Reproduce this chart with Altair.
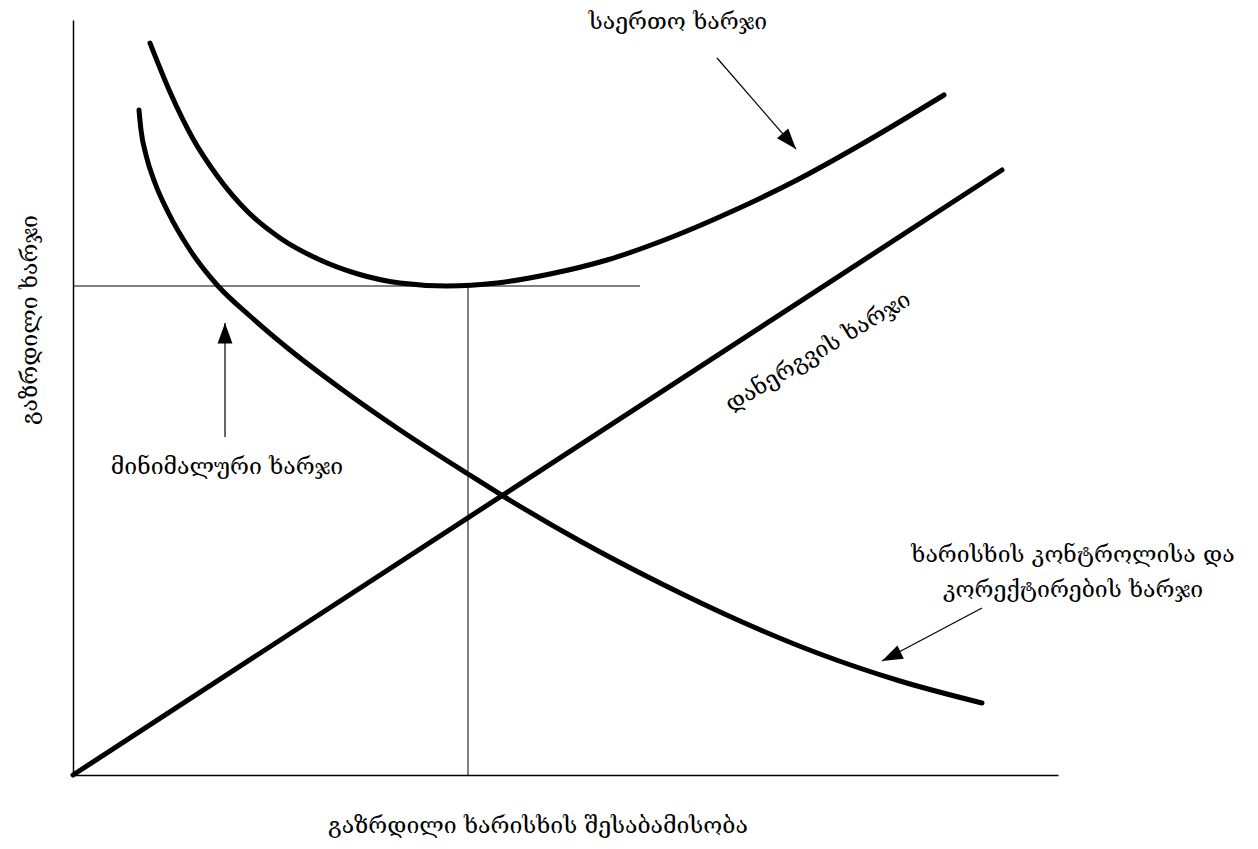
import altair as alt
import pandas as pd

# Data in chart units (origin at the axes corner, 1 unit ~ 1 px)
total_x = [77, 97, 119, 145, 175, 207, 245, 285, 327, 374, 424, 477, 534, 594, 662, 724, 789, 871]
total_y = [732, 683, 638, 598, 563, 537, 516, 501, 492, 489, 492, 501, 515, 536, 565, 595, 631, 680]

qc_x = [66, 68, 73, 82, 95, 117, 145, 177, 217, 267, 327, 395, 430, 507, 587, 667, 747, 827, 909]
qc_y = [665, 645, 620, 592, 563, 525, 489, 459, 425, 387, 345, 301, 279, 234, 192, 154, 121, 94, 72]

impl_x = [0, 929]
impl_y = [0, 605]

min_level_y = 489
min_level_x_end = 567
min_point_x = 395

arrow_x1 = [644, 152, 909]
arrow_y1 = [717, 338, 167]
arrow_x2 = [723, 152, 809]
arrow_y2 = [626, 452, 114]
arrow_angle = [139.5, 0, 244.5]

labels = ["საერთო ხარჯი", "მინიმალური ხარჯი", "დანერგვის ხარჯი",
          "ხარისხის კონტროლისა და", "კორექტირების ხარჯი"]
label_x = [605, 154, 745, 1000, 1000]
label_y = [753, 308, 423, 220, 185]
label_angle = [0, 0, 329, 0, 0]

x_title = "გაზრდილი ხარისხის შესაბამისობა"
y_title = "გაზრდილი ხარჯი"

W, H = 985, 755
FONT = "DejaVu Serif"
FS = 23

xs = alt.Scale(domain=[0, W], nice=False, zero=False)
ys = alt.Scale(domain=[0, H], nice=False, zero=False)

total_df = pd.DataFrame({"x": total_x, "y": total_y, "o": range(len(total_x))})
qc_df = pd.DataFrame({"x": qc_x, "y": qc_y, "o": range(len(qc_x))})
impl_df = pd.DataFrame({"x": impl_x, "y": impl_y, "o": range(len(impl_x))})

def curve(df, interp):
    return alt.Chart(df).mark_line(color="black", strokeWidth=5, strokeCap="round",
                                   interpolate=interp).encode(
        x=alt.X("x:Q", scale=xs, axis=alt.Axis(domain=True, ticks=False, labels=False, grid=False,
                                               title="", domainColor="black", domainWidth=1.5)),
        y=alt.Y("y:Q", scale=ys, axis=alt.Axis(domain=True, ticks=False, labels=False, grid=False,
                                               title="", domainColor="black", domainWidth=1.5)),
        order="o:Q",
    )

total = curve(total_df, "monotone")
qc = curve(qc_df, "monotone")
impl = curve(impl_df, "linear")

guides_df = pd.DataFrame({
    "x": [0, min_point_x],
    "x2": [min_level_x_end, min_point_x],
    "y": [min_level_y, 0],
    "y2": [min_level_y, min_level_y],
})
guides = alt.Chart(guides_df).mark_rule(color="black", strokeWidth=1).encode(
    x=alt.X("x:Q", scale=xs), x2="x2:Q", y=alt.Y("y:Q", scale=ys), y2="y2:Q"
)

arrows_df = pd.DataFrame({"x": arrow_x1, "y": arrow_y1, "x2": arrow_x2, "y2": arrow_y2,
                          "a": arrow_angle})
arrow_lines = alt.Chart(arrows_df).mark_rule(color="black", strokeWidth=1.2).encode(
    x=alt.X("x:Q", scale=xs), x2="x2:Q", y=alt.Y("y:Q", scale=ys), y2="y2:Q"
)
arrow_heads = alt.Chart(arrows_df).mark_point(
    shape="M0,0 L-0.36,1 L0.36,1 Z", filled=True, color="black", opacity=1, size=1700
).encode(
    x=alt.X("x2:Q", scale=xs), y=alt.Y("y2:Q", scale=ys), angle=alt.Angle("a:Q", scale=None)
)

labels_df = pd.DataFrame({"t": labels, "x": label_x, "y": label_y, "a": label_angle})
label_marks = alt.Chart(labels_df).mark_text(font=FONT, fontSize=FS, color="black",
                                             align="center", baseline="middle").encode(
    x=alt.X("x:Q", scale=xs), y=alt.Y("y:Q", scale=ys), text="t:N",
    angle=alt.Angle("a:Q", scale=None)
)

xt_df = pd.DataFrame({"t": [x_title], "x": [465], "y": [-51]})
xt = alt.Chart(xt_df).mark_text(font=FONT, fontSize=FS, color="black",
                                align="center", baseline="middle").encode(
    x=alt.X("x:Q", scale=xs), y=alt.Y("y:Q", scale=ys), text="t:N")

yt_df = pd.DataFrame({"t": [y_title], "x": [-43], "y": [455]})
yt = alt.Chart(yt_df).mark_text(font=FONT, fontSize=FS, color="black", angle=270,
                                align="center", baseline="middle").encode(
    x=alt.X("x:Q", scale=xs), y=alt.Y("y:Q", scale=ys), text="t:N")

chart = alt.layer(guides, impl, qc, total, arrow_lines, arrow_heads, label_marks, xt, yt).properties(
    width=W, height=H,
    autosize=alt.AutoSizeParams(type="none"),
    padding={"left": 65, "top": 12, "right": 192, "bottom": 66},
    background="white",
).configure_view(stroke=None)

chart.save("out.html", embed_options={"renderer": "svg", "actions": False})
